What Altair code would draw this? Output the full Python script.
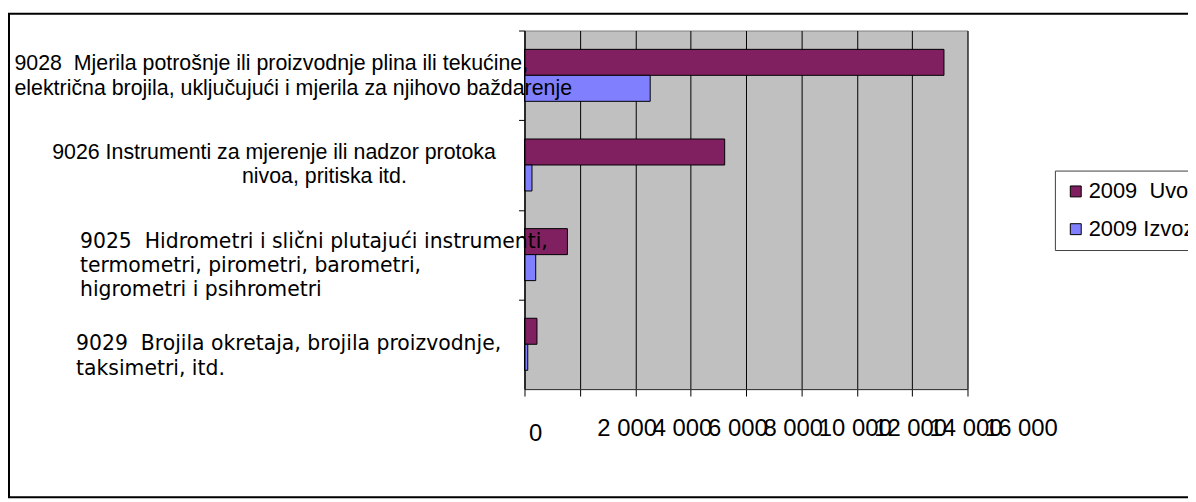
import altair as alt
import pandas as pd

# ---- data ----
label_texts = [
    "9028\u00a0\u00a0Mjerila potrošnje ili proizvodnje plina ili tekućine,|električna brojila, uključujući i mjerila za njihovo baždarenje",
    "9026 Instrumenti za mjerenje ili nadzor protoka|\u200b" + "\u00a0" * 32 + "nivoa, pritiska itd.",
    "9025\u00a0\u00a0Hidrometri i slični plutajući instrumenti,|termometri, pirometri, barometri,|higrometri i psihrometri",
    "9029\u00a0\u00a0Brojila okretaja, brojila proizvodnje,|taksimetri, itd.",
]
series_names = ["2009\u00a0 Uvoz", "2009 Izvoz"]
uvoz_2009 = [15150, 7230, 1550, 450]
izvoz_2009 = [4540, 270, 405, 118]
x_tick_values = [0, 2000, 4000, 6000, 8000, 10000, 12000, 14000, 16000]
series_colors = ["#802060", "#8080FF"]

rows = []
for lab, u, i in zip(label_texts, uvoz_2009, izvoz_2009):
    rows.append({"cat": lab, "series": series_names[0], "amount": u})
    rows.append({"cat": lab, "series": series_names[1], "amount": i})
df = pd.DataFrame(rows)


def starts(code):
    return f"indexof(datum.value, '{code}') === 0"


verdana_like = f"{starts('9025')} || {starts('9029')}"

y_axis = alt.Axis(
    title=None,
    domainColor="black",
    tickColor="black",
    tickSize=6,
    tickOffset=-45.1,
    labelExpr="split(datum.value, '|')",
    labelAlign="left",
    labelBaseline="middle",
    labelLineHeight=24.5,
    labelLimit=3000,
    labelColor="black",
    labelFont={"condition": {"test": verdana_like, "value": "DejaVu Sans"},
               "value": "Liberation Sans"},
    labelFontSize={"condition": {"test": verdana_like, "value": 20.5}, "value": 21.5},
    labelPadding={"condition": [
        {"test": starts("9028"), "value": 508},
        {"test": starts("9026"), "value": 470},
        {"test": starts("9025"), "value": 442},
    ], "value": 446},
    labelOffset={"condition": [
        {"test": starts("9028"), "value": 33.6},
        {"test": starts("9026"), "value": 32.4},
        {"test": starts("9025"), "value": 31.7},
    ], "value": 44.7},
    zindex=2,
)

x_axis = alt.Axis(
    title=None,
    values=x_tick_values,
    grid=True,
    gridColor="black",
    gridWidth=1,
    domainColor="#333333",
    tickColor="black",
    tickSize=7,
    labelExpr="replace(format(datum.value, ','), ',', ' ')",
    labelFont="Liberation Sans",
    labelFontSize=24,
    labelColor="black",
    labelOverlap=False,
    labelFlush=False,
    labelAlign="left",
    labelBaseline="top",
    labelPadding={"condition": {"test": "datum.value === 0", "value": 26}, "value": 20.5},
    labelOffset={"condition": {"test": "datum.value === 0", "value": 4}, "value": 17},
    zindex=0,
)

bars = alt.Chart(df).mark_bar(stroke="black", strokeWidth=1).encode(
    x=alt.X("amount:Q", scale=alt.Scale(domain=[0, 16000], nice=False), axis=x_axis),
    y=alt.Y("cat:N", sort=label_texts,
            scale=alt.Scale(paddingInner=0.42, paddingOuter=0.21), axis=y_axis),
    yOffset=alt.YOffset("series:N", sort=series_names),
    color=alt.Color(
        "series:N",
        sort=series_names,
        scale=alt.Scale(domain=series_names, range=series_colors),
        legend=alt.Legend(
            title=None,
            orient="none",
            legendX=534,
            legendY=141,
            strokeColor="#404040",
            fillColor="white",
            padding=10,
            symbolType="square",
            symbolSize=121,
            symbolStrokeColor="black",
            symbolStrokeWidth=1,
            labelFont="Liberation Sans",
            labelFontSize=22,
            labelColor="black",
            labelOffset=2,
            rowPadding=16,
        ),
    ),
)

frame = alt.Chart(pd.DataFrame({"f": [0]})).mark_rect(
    fillOpacity=0, stroke="black", strokeWidth=2
).encode(
    x=alt.value(-519), x2=alt.value(720), y=alt.value(-17), y2=alt.value(470)
)

chart = alt.layer(frame, bars).properties(
    width=446,
    height=361,
    autosize=alt.AutoSizeParams(type="none"),
    padding={"left": 520, "top": 21, "right": 222, "bottom": 112},
).configure_view(fill="#C0C0C0", stroke="#808080", strokeWidth=1)

chart.save("out.html", embed_options={"renderer": "svg", "actions": False})
